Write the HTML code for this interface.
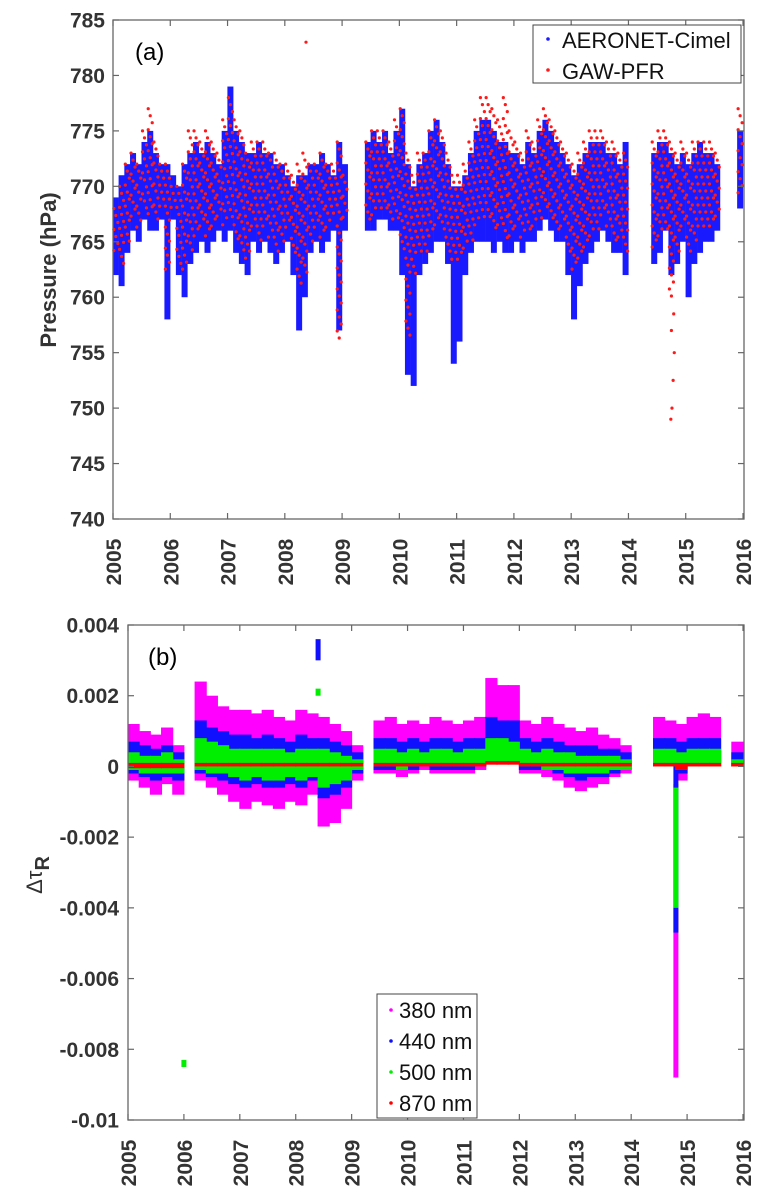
<!DOCTYPE html>
<html><head><meta charset="utf-8"><style>
body{margin:0;background:#fff;}
svg{display:block;font-family:"Liberation Sans",Arial,sans-serif;}
</style></head><body>
<svg id="fig" width="767" height="1201" viewBox="0 0 767 1201"></svg>
<script>
// ---------- Panel (a) data ----------
const yearsA = [];
for (let y = 2005; y < 2016; y++) for (let k = 0; k < 10; k++) yearsA.push(y + 0.05 + k * 0.1);
const n = null;
const blueLoA = [
762,761,764,766,765,767,766,766,767,758,
767,762,760,763,764,765,764,765,766,765,
766,764,763,762,765,764,765,764,763,764,
765,762,757,760,764,765,764,765,766,757,
766,n,n,n,766,766,767,767,766,766,
762,753,752,762,763,764,765,765,763,754,
756,762,764,765,765,765,764,765,764,764,
765,764,765,765,766,767,766,765,765,762,
758,761,763,764,765,766,765,764,764,762,
n,n,n,n,763,764,766,762,763,765,
760,763,764,765,765,766,n,n,n,768];
const blueHiA = [
769,771,772,773,772,774,775,773,772,772,
771,770,772,773,774,773,774,773,772,775,
779,775,774,773,773,774,773,773,772,772,
771,770,771,771,772,772,773,772,771,774,
772,n,n,n,774,775,774,775,773,775,
777,772,770,772,773,775,776,774,772,770,
770,771,773,775,776,776,775,774,774,773,
773,772,774,773,775,776,775,774,773,772,
771,772,773,774,774,774,773,773,772,774,
n,n,n,n,773,774,774,773,772,773,
772,773,774,773,773,772,n,n,n,775];
const redLoA = [
764,763,765,767,766,768,767,767,768,762,
768,763,762,764,765,766,765,766,767,766,
767,765,764,763,766,765,766,765,764,765,
766,764,761,762,765,766,765,766,767,756,
767,n,n,n,767,767,768,768,767,767,
764,756,762,764,764,765,766,766,764,763,
763,764,765,766,767,767,766,766,765,765,
766,765,766,766,767,768,767,766,766,764,
762,763,764,765,766,767,766,765,765,764,
n,n,n,n,764,765,766,760,764,766,
764,765,766,766,766,767,n,n,n,769];
const redHiA = [
768,770,772,773,772,775,777,774,772,772,
770,770,772,775,775,774,775,774,773,776,
778,776,775,773,774,774,774,773,773,772,
772,771,772,773,772,772,773,772,772,774,
771,n,n,n,774,775,775,775,774,776,
777,773,771,773,773,775,776,775,773,771,
771,772,774,776,778,778,777,776,778,775,
774,773,775,774,776,777,776,775,774,773,
772,773,774,775,775,775,774,774,773,773,
n,n,n,n,774,775,775,774,773,774,
773,774,774,774,774,773,n,n,n,777];
// isolated red points [year, hPa]
const redOutYears = [2008.37, 2014.74, 2014.76, 2014.78, 2014.80, 2014.75, 2014.79];
const redOutVals  = [783, 749, 750, 752.5, 755, 757, 758.5];
const yTicksA = [740,745,750,755,760,765,770,775,780,785];
const xTickYears = [2005,2006,2007,2008,2009,2010,2011,2012,2013,2014,2015,2016];

// ---------- Panel (b) data (units 1e-4) ----------
const yearsB = [2005.1,2005.3,2005.5,2005.7,2005.9,2006.3,2006.5,2006.7,2006.9,2007.1,2007.3,2007.5,2007.7,2007.9,2008.1,2008.3,2008.5,2008.7,2008.9,2009.1,2009.5,2009.7,2009.9,2010.1,2010.3,2010.5,2010.7,2010.9,2011.1,2011.3,2011.5,2011.7,2011.9,2012.1,2012.3,2012.5,2012.7,2012.9,2013.1,2013.3,2013.5,2013.7,2013.9,2014.5,2014.7,2014.9,2015.1,2015.3,2015.5,2015.9];
const magHi = [12,10,9,11,6,24,20,17,16,16,15,16,14,13,16,15,14,12,10,6,13,14,12,13,12,14,13,12,13,14,25,23,23,13,12,14,12,11,10,11,9,8,6,14,13,12,14,15,14,7];
const magLo = [-4,-6,-8,-5,-8,-4,-6,-8,-10,-12,-10,-11,-12,-10,-11,-8,-17,-16,-12,-4,-2,-2,-3,-2,-1,-2,-2,-2,-2,-1,1,1,1,-2,-2,-3,-4,-6,-7,-6,-5,-3,-2,0,0,-4,0,0,0,0];
const bluHi = [7,6,5,6,4,13,11,10,9,9,8,9,8,7,9,8,8,7,6,4,8,8,7,8,7,8,8,7,8,8,14,13,13,8,7,8,7,6,6,6,5,5,4,8,8,7,8,8,8,4];
const bluLo = [-2,-3,-4,-3,-4,-2,-3,-4,-5,-6,-5,-6,-6,-5,-6,-4,-9,-8,-6,-2,-1,-1,-1,-1,0,-1,-1,-1,-1,0,1,1,1,-1,-1,-1,-2,-3,-4,-3,-3,-2,-1,0,0,-2,0,0,0,0];
const grnHi = [4,3,3,4,2,8,7,6,5,5,5,5,5,4,5,5,5,4,3,2,5,5,4,5,4,5,5,4,5,5,8,8,7,5,4,5,4,4,3,3,3,3,2,5,5,4,5,5,5,2];
const grnLo = [-1,-2,-2,-2,-2,-1,-2,-2,-3,-4,-3,-4,-4,-3,-4,-3,-6,-5,-4,-1,0,0,-1,0,0,0,0,0,0,0,1,1,1,0,0,-1,-1,-2,-2,-2,-2,-1,-1,0,0,-1,0,0,0,0];
const redHiB = [1,1,1,1,1,1,1,1,1,1,1,1,1,1,1,1,1,1,1,1,1,1,1,1,1,1,1,1,1,1,1.5,1.5,1.5,1,1,1,1,1,1,1,1,1,1,1,1,1,1,1,1,1];
const redLoB = [-0.5,-0.5,-0.5,-0.5,-0.5,0,0,0,0,0,0,0,0,0,0,0,0,0,0,0,0,0,0,0,0,0,0,0,0,0,0.5,0.5,0.5,0,0,0,0,0,0,0,0,0,0,0,0,-1,0,0,0,0];
const spikeMag = [2014.8, -88, -5];
const spikeBlu = [2014.8, -47, 0];
const spikeGrn = [2014.8, -40, -6];
const outBlu = [2008.4, 30, 36];
const outGrn1 = [2008.4, 20, 22];
const outGrn2 = [2006.0, -85, -83];
const yTicksB = [-100,-80,-60,-40,-20,0,20,40];
const yTickLabB = ["-0.01","-0.008","-0.006","-0.004","-0.002","0","0.002","0.004"];

const NS = "http://www.w3.org/2000/svg";
const svg = document.getElementById('fig');
function el(tag, attrs, parent, text) {
  const e = document.createElementNS(NS, tag);
  for (const k in attrs) e.setAttribute(k, attrs[k]);
  if (text !== undefined) e.textContent = text;
  (parent || svg).appendChild(e);
  return e;
}

const A = {x0:113, x1:743, y0:519, y1:20};
const xA = yr => A.x0 + (yr - 2005) / 11 * (A.x1 - A.x0);
const yA = v => A.y0 - (v - 740) / 45 * (A.y0 - A.y1);
const B = {x0:128, x1:743, yb:1120, yt:625};
const xB = yr => B.x0 + (yr - 2005) / 11 * (B.x1 - B.x0);
const yB = v => B.yb - (v + 100) / 140 * (B.yb - B.yt);

// ---------- Panel (a) ----------
const gA = el('g', {});


const blueG = el('g', {}, gA);


yearsA.forEach((t, i) => {
  if (blueLoA[i] === null) return;
  const r = el('rect', {x: xA(t) - 3, y: yA(blueHiA[i]), width: 6, height: yA(blueLoA[i]) - yA(blueHiA[i]), fill: '#1a1aff'}, blueG);
  
  
});
const redG = el('g', {}, gA);


yearsA.forEach((t, i) => {
  if (redLoA[i] === null) return;
  const top = yA(redHiA[i]), bot = yA(redLoA[i]);
  let k = 0;
  for (let y = top; y <= bot; y += 7) {
    const c = el('circle', {cx: xA(t) + ((k % 3) - 1) * 2, cy: y, r: 1.6, fill: '#ff1a1a'}, redG);
    
    
    k++;
  }
});
redOutYears.forEach((t, i) => {
  const c = el('circle', {cx: xA(t), cy: yA(redOutVals[i]), r: 1.6, fill: '#ff1a1a'}, redG);
  
  
});
const frA = el('rect', {x: A.x0, y: A.y1, width: A.x1 - A.x0 + 1, height: A.y0 - A.y1, fill: 'none', stroke: '#666', 'stroke-width': 1.3}, gA);


yTicksA.forEach(v => {
  el('line', {x1: A.x0, x2: A.x0 + 6, y1: yA(v), y2: yA(v), stroke: '#666', 'stroke-width': 1.2}, gA);
  el('line', {x1: A.x1 + 1, x2: A.x1 - 5, y1: yA(v), y2: yA(v), stroke: '#666', 'stroke-width': 1.2}, gA);
  const t = el('text', {x: A.x0 - 8, y: yA(v) + 7.5, 'text-anchor': 'end', 'font-size': 21, 'font-weight': 'bold', fill: '#333'}, gA, String(v));
  
  
});
xTickYears.forEach(yr => {
  el('line', {x1: xA(yr), x2: xA(yr), y1: A.y0, y2: A.y0 - 6, stroke: '#666', 'stroke-width': 1.2}, gA);
  el('line', {x1: xA(yr), x2: xA(yr), y1: A.y1, y2: A.y1 + 6, stroke: '#666', 'stroke-width': 1.2}, gA);
  const t = el('text', {x: 0, y: 0, transform: `translate(${xA(yr) + 8},562) rotate(-90)`, 'text-anchor': 'middle', 'font-size': 21, 'font-weight': 'bold', fill: '#333'}, gA, String(yr));
  
  
});
const ylA = el('text', {x: 0, y: 0, transform: 'translate(56,270) rotate(-90)', 'text-anchor': 'middle', 'font-size': 22, 'font-weight': 'bold', fill: '#333'}, gA, 'Pressure (hPa)');


const pa = el('text', {x: 135, y: 60, 'font-size': 24, fill: '#000'}, gA, '(a)');


const lgA = el('g', {}, gA);


el('rect', {x: 533, y: 25, width: 208, height: 58, fill: '#fff', stroke: '#444', 'stroke-width': 1}, lgA);
el('circle', {cx: 548, cy: 39, r: 1.8, fill: '#1a1aff'}, lgA);
const la1 = el('text', {x: 562, y: 48, 'font-size': 22, fill: '#111'}, lgA, 'AERONET-Cimel');


el('circle', {cx: 548, cy: 70, r: 1.8, fill: '#ff1a1a'}, lgA);
const la2 = el('text', {x: 562, y: 79, 'font-size': 22, fill: '#111'}, lgA, 'GAW-PFR');



// ---------- Panel (b) ----------
const gB = el('g', {});


const w = (xB(2005.2) - xB(2005)) + 1;
function series(hi, lo, color, name, extras) {
  const g = el('g', {}, gB);
  
  
  yearsB.forEach((t, i) => {
    const top = yB(hi[i]), bot = yB(lo[i]);
    const r = el('rect', {x: xB(t) - w / 2, y: top, width: w, height: Math.max(bot - top, 3), fill: color}, g);
    
    
  });
  (extras || []).forEach(s => {
    const r = el('rect', {x: xB(s[0]) - 2.5, y: yB(s[2]), width: 5, height: Math.max(yB(s[1]) - yB(s[2]), 3), fill: color}, g);
    
    
  });
}
series(magHi, magLo, '#ff00ff', 'series-380nm', [spikeMag]);
series(bluHi, bluLo, '#1010ff', 'series-440nm', [spikeBlu, outBlu]);
series(grnHi, grnLo, '#00ee00', 'series-500nm', [spikeGrn, outGrn1, outGrn2]);
series(redHiB, redLoB, '#ff0000', 'series-870nm', []);
const frB = el('rect', {x: B.x0, y: B.yt, width: B.x1 - B.x0 + 1, height: B.yb - B.yt, fill: 'none', stroke: '#666', 'stroke-width': 1.3}, gB);


yTicksB.forEach((v, i) => {
  el('line', {x1: B.x0, x2: B.x0 + 6, y1: yB(v), y2: yB(v), stroke: '#666', 'stroke-width': 1.2}, gB);
  el('line', {x1: B.x1 + 1, x2: B.x1 - 5, y1: yB(v), y2: yB(v), stroke: '#666', 'stroke-width': 1.2}, gB);
  const t = el('text', {x: B.x0 - 9, y: yB(v) + 7.5, 'text-anchor': 'end', 'font-size': 21, 'font-weight': 'bold', fill: '#333'}, gB, yTickLabB[i]);
  
  
});
xTickYears.forEach(yr => {
  el('line', {x1: xB(yr), x2: xB(yr), y1: B.yb, y2: B.yb - 6, stroke: '#666', 'stroke-width': 1.2}, gB);
  el('line', {x1: xB(yr), x2: xB(yr), y1: B.yt, y2: B.yt + 6, stroke: '#666', 'stroke-width': 1.2}, gB);
  const t = el('text', {x: 0, y: 0, transform: `translate(${xB(yr) + 8},1163) rotate(-90)`, 'text-anchor': 'middle', 'font-size': 21, 'font-weight': 'bold', fill: '#333'}, gB, String(yr));
  
  
});
const ylB = el('text', {x: 0, y: 0, transform: 'translate(42,875) rotate(-90)', 'text-anchor': 'middle', 'font-size': 22, fill: '#333'}, gB);


el('tspan', {}, ylB, 'Δτ');
el('tspan', {dy: 7, 'font-weight': 'bold', 'font-size': 20}, ylB, 'R');
const pb = el('text', {x: 148, y: 665, 'font-size': 24, fill: '#000'}, gB, '(b)');


const lgB = el('g', {}, gB);


el('rect', {x: 377, y: 994, width: 100, height: 124, fill: '#fff', stroke: '#444', 'stroke-width': 1}, lgB);
const legNames = ['380 nm', '440 nm', '500 nm', '870 nm'];
const legCols = ['#ff00ff', '#1010ff', '#00ee00', '#ff0000'];
legNames.forEach((s, i) => {
  const cy = 1010 + i * 31;
  el('circle', {cx: 391, cy: cy, r: 1.8, fill: legCols[i]}, lgB);
  const t = el('text', {x: 399, y: cy + 8, 'font-size': 22, fill: '#111'}, lgB, s);
  
  
});
</script>
</body></html>
